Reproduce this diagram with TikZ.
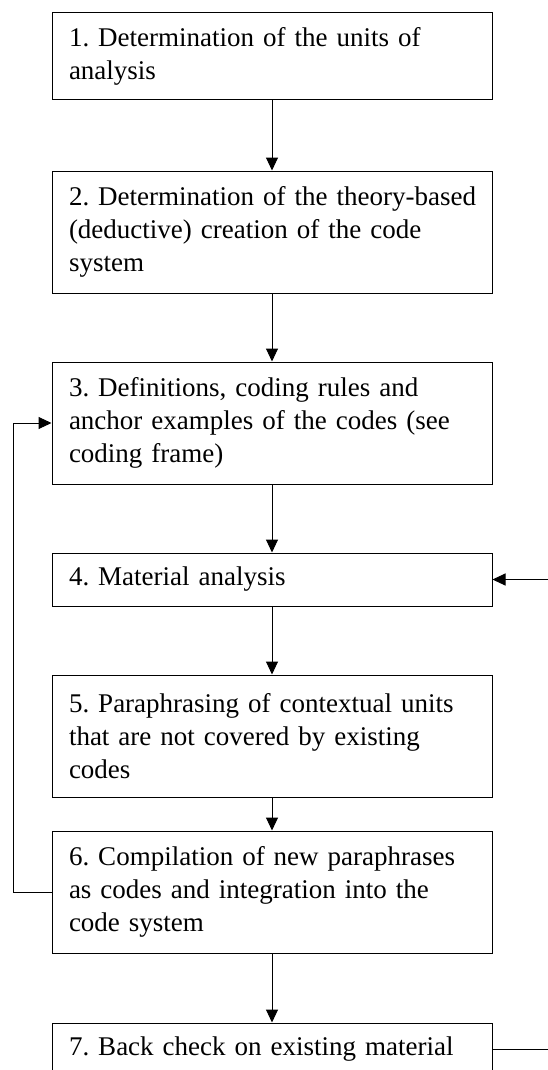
\documentclass[tikz,border=0pt]{standalone}
\usepackage{fontspec}
\setmainfont{Liberation Serif}
\usetikzlibrary{arrows.meta}
\frenchspacing
\begin{document}
\begin{tikzpicture}[x=1pt,y=-1pt,
  stepbox/.style={draw, line width=1pt, minimum width=440pt, text width=406pt,
    inner xsep=17pt, inner ysep=0pt, align=left,
    font=\fontsize{27}{33}\selectfont\frenchspacing, anchor=center},
  link/.style={line width=1pt},
  arr/.style={line width=1pt, -{Triangle[width=12pt,length=13pt]}}]
\useasboundingbox (0,0) rectangle (548,1070);
\node[stepbox, minimum height=87pt] (b1) at (272,56.5) {\mbox{1. Determination of the units of}\\analysis};
\node[stepbox, minimum height=122pt] (b2) at (272,232) {\mbox{2. Determination of the theory-based}\\\mbox{(deductive) creation of the code}\\system};
\node[stepbox, minimum height=122pt] (b3) at (272,423) {\mbox{3. Definitions, coding rules and}\\\mbox{anchor examples of the codes (see}\\coding frame)};
\node[stepbox, minimum height=53pt] (b4) at (272,579.5) {4. Material analysis};
\node[stepbox, minimum height=122pt] (b5) at (272,736) {\mbox{5. Paraphrasing of contextual units}\\\mbox{that are not covered by existing}\\codes};
\node[stepbox, minimum height=122pt] (b6) at (272,892) {\mbox{6. Compilation of new paraphrases}\\\mbox{as codes and integration into the}\\code system};
\node[stepbox, minimum height=53pt] (b7) at (272,1049.5) {\mbox{7. Back check on existing material}};
\coordinate (r4) at (548,579.5);
\coordinate (r7) at (548,1049.5);
\draw[arr] (b1) -- (b2);
\draw[arr] (b2) -- (b3);
\draw[arr] (b3) -- (b4);
\draw[arr] (b4) -- (b5);
\draw[arr] (b5) -- (b6);
\draw[arr] (b6) -- (b7);
\draw[arr] (b6.west) -- (13,892) -- (13,423) -- (b3.west);
\draw[arr] (r4) -- (b4.east);
\draw[link] (b7.east) -- (r7);
\end{tikzpicture}
\end{document}
